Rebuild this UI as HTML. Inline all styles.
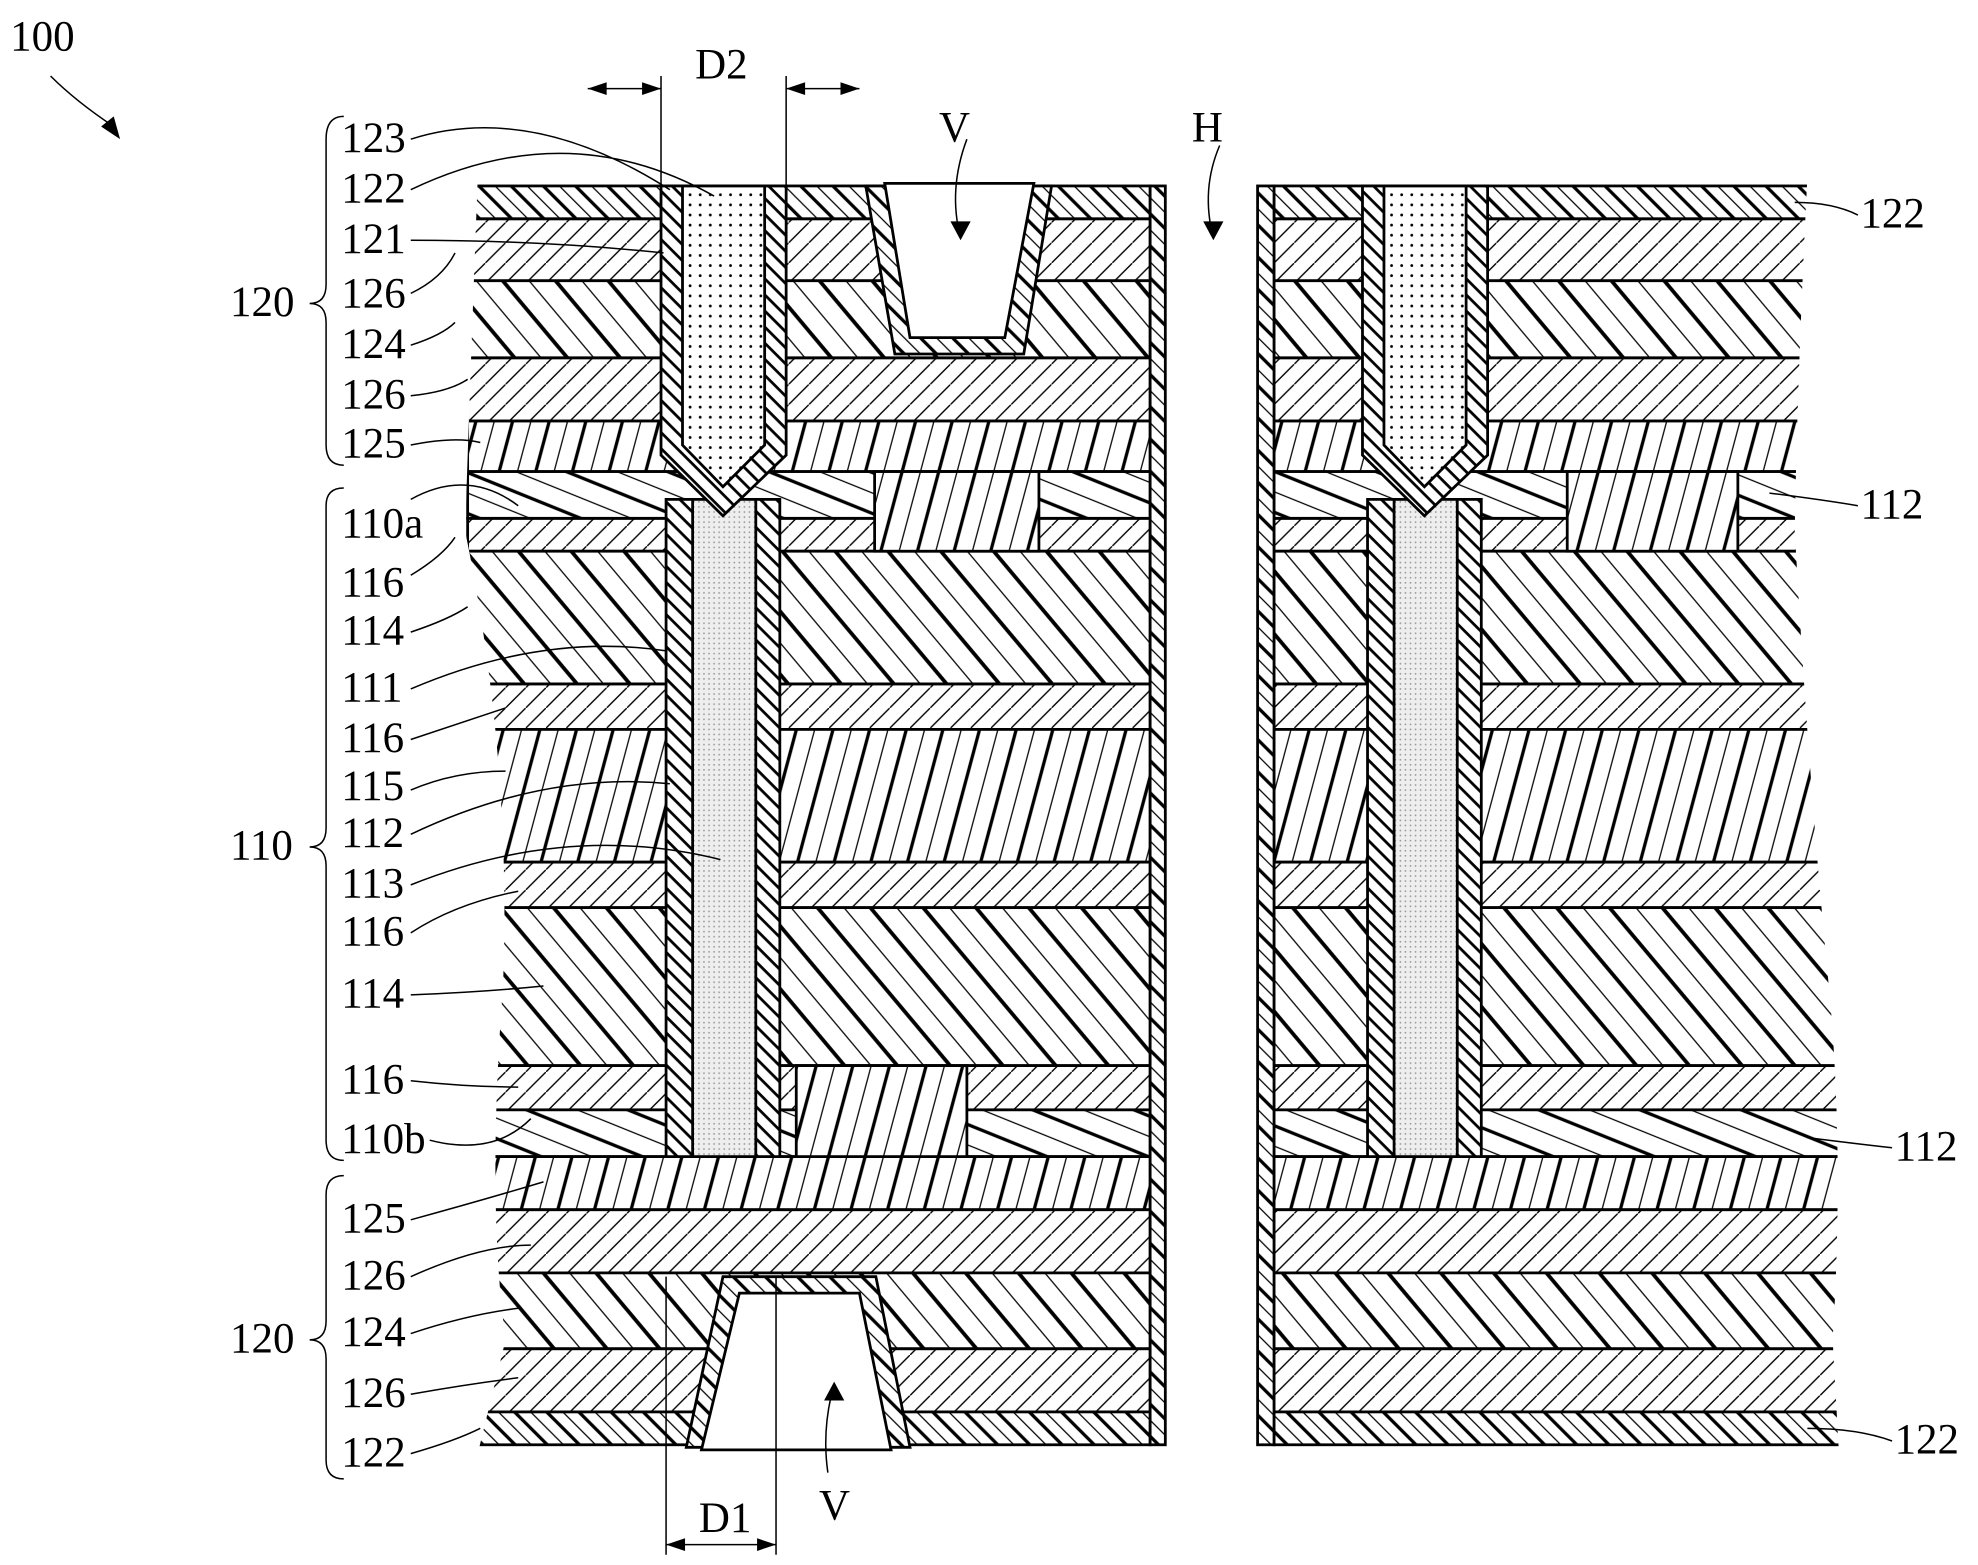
<!DOCTYPE html>
<html><head><meta charset="utf-8"><style>html,body{margin:0;padding:0;background:#fff}svg{display:block}</style></head><body>
<svg width="1978" height="1565" viewBox="0 0 1565 1238" xmlns="http://www.w3.org/2000/svg" font-family="Liberation Serif, serif" font-size="34">
<defs>
<pattern id="p126" width="16" height="16" patternUnits="userSpaceOnUse"><path d="M-2,18 L18,-2" stroke="#000" stroke-width="1.1"/></pattern>
<pattern id="p124" width="32" height="32" patternUnits="userSpaceOnUse" patternTransform="rotate(-40)"><rect width="32" height="32" fill="#fff"/><line x1="2" y1="0" x2="2" y2="32" stroke="#000" stroke-width="3"/><line x1="18" y1="0" x2="18" y2="32" stroke="#000" stroke-width="1"/></pattern>
<pattern id="p125" width="28" height="28" patternUnits="userSpaceOnUse" patternTransform="rotate(15)"><rect width="28" height="28" fill="#fff"/><line x1="2" y1="0" x2="2" y2="28" stroke="#000" stroke-width="2.6"/><line x1="16" y1="0" x2="16" y2="28" stroke="#000" stroke-width="1"/></pattern>
<pattern id="p112" width="30" height="30" patternUnits="userSpaceOnUse" patternTransform="rotate(-68)"><rect width="30" height="30" fill="#fff"/><line x1="2" y1="0" x2="2" y2="30" stroke="#000" stroke-width="2.6"/><line x1="17" y1="0" x2="17" y2="30" stroke="#000" stroke-width="1"/></pattern>
<pattern id="p122" width="18" height="18" patternUnits="userSpaceOnUse" patternTransform="rotate(-45)"><rect width="18" height="18" fill="#fff"/><line x1="2" y1="0" x2="2" y2="18" stroke="#000" stroke-width="2.6"/><line x1="11" y1="0" x2="11" y2="18" stroke="#000" stroke-width="1"/></pattern>
<pattern id="pl" width="9" height="9" patternUnits="userSpaceOnUse" patternTransform="rotate(-45)"><rect width="9" height="9" fill="#fff"/><line x1="2" y1="0" x2="2" y2="9" stroke="#000" stroke-width="2.2"/></pattern>
<pattern id="pd" width="8" height="8" patternUnits="userSpaceOnUse"><rect width="8" height="8" fill="#fff"/><circle cx="2" cy="2" r="1.1" fill="#000"/></pattern>
<pattern id="pd2" width="4" height="4" patternUnits="userSpaceOnUse"><rect width="4" height="4" fill="#eee"/><circle cx="1" cy="1" r="0.7" fill="#999"/></pattern>
</defs>
<g stroke="#000" stroke-width="2.2">
<g>
<rect x="370" y="147" width="540" height="26" fill="url(#p122)"/>
<rect x="370" y="173" width="540" height="49" fill="url(#p126)"/>
<rect x="370" y="222" width="540" height="61" fill="url(#p124)"/>
<rect x="370" y="283" width="540" height="50" fill="url(#p126)"/>
<rect x="370" y="333" width="540" height="40" fill="url(#p125)"/>
<rect x="370" y="373" width="540" height="37" fill="url(#p112)"/>
<rect x="370" y="410" width="540" height="26" fill="url(#p126)"/>
<rect x="370" y="436" width="540" height="105" fill="url(#p124)"/>
<rect x="370" y="541" width="540" height="36" fill="url(#p126)"/>
<rect x="370" y="577" width="540" height="105" fill="url(#p125)"/>
<rect x="370" y="682" width="540" height="36" fill="url(#p126)"/>
<rect x="370" y="718" width="540" height="125" fill="url(#p124)"/>
<rect x="370" y="843" width="540" height="35" fill="url(#p126)"/>
<rect x="370" y="878" width="540" height="37" fill="url(#p112)"/>
<rect x="370" y="915" width="540" height="42" fill="url(#p125)"/>
<rect x="370" y="957" width="540" height="50" fill="url(#p126)"/>
<rect x="370" y="1007" width="540" height="60" fill="url(#p124)"/>
<rect x="370" y="1067" width="540" height="50" fill="url(#p126)"/>
<rect x="370" y="1117" width="540" height="26" fill="url(#p122)"/>
</g>
<g>
<rect x="1008" y="147" width="460" height="26" fill="url(#p122)"/>
<rect x="1008" y="173" width="460" height="49" fill="url(#p126)"/>
<rect x="1008" y="222" width="460" height="61" fill="url(#p124)"/>
<rect x="1008" y="283" width="460" height="50" fill="url(#p126)"/>
<rect x="1008" y="333" width="460" height="40" fill="url(#p125)"/>
<rect x="1008" y="373" width="460" height="37" fill="url(#p112)"/>
<rect x="1008" y="410" width="460" height="26" fill="url(#p126)"/>
<rect x="1008" y="436" width="460" height="105" fill="url(#p124)"/>
<rect x="1008" y="541" width="460" height="36" fill="url(#p126)"/>
<rect x="1008" y="577" width="460" height="105" fill="url(#p125)"/>
<rect x="1008" y="682" width="460" height="36" fill="url(#p126)"/>
<rect x="1008" y="718" width="460" height="125" fill="url(#p124)"/>
<rect x="1008" y="843" width="460" height="35" fill="url(#p126)"/>
<rect x="1008" y="878" width="460" height="37" fill="url(#p112)"/>
<rect x="1008" y="915" width="460" height="42" fill="url(#p125)"/>
<rect x="1008" y="957" width="460" height="50" fill="url(#p126)"/>
<rect x="1008" y="1007" width="460" height="60" fill="url(#p124)"/>
<rect x="1008" y="1067" width="460" height="50" fill="url(#p126)"/>
<rect x="1008" y="1117" width="460" height="26" fill="url(#p122)"/>
</g>
<rect x="692" y="373" width="130" height="63" fill="url(#p125)"/>
<rect x="630" y="843" width="135" height="72" fill="url(#p125)"/>
<rect x="1240" y="373" width="135" height="63" fill="url(#p125)"/>
<rect x="910" y="147" width="12" height="996" fill="url(#p122)"/>
<rect x="995" y="147" width="13" height="996" fill="url(#p122)"/>
<polygon points="685,147 708,280 810,280 832,147" fill="url(#p122)"/>
<polygon points="700,145 720,267 795,267 818,145" fill="#fff"/>
<polygon points="543,1145 572,1010 693,1010 720,1145" fill="url(#p122)"/>
<polygon points="555,1147 585,1023 680,1023 705,1147" fill="#fff"/>
<g>
<rect x="527" y="395" width="90" height="520" fill="url(#pl)"/>
<rect x="548" y="395" width="50" height="520" fill="url(#pd2)"/>
<polygon points="523,147 622,147 622,360 572,408 523,360" fill="url(#pl)"/>
<polygon points="540,147 605,147 605,352 572,385 540,352" fill="url(#pd)"/>
</g>
<g transform="translate(555,0)">
<rect x="527" y="395" width="90" height="520" fill="url(#pl)"/>
<rect x="548" y="395" width="50" height="520" fill="url(#pd2)"/>
<polygon points="523,147 622,147 622,360 572,408 523,360" fill="url(#pl)"/>
<polygon points="540,147 605,147 605,352 572,385 540,352" fill="url(#pd)"/>
</g>
</g>
<path d="M0,140 L378,140 Q372,300 368,420 Q405,600 398,780 Q385,950 400,1060 L378,1150 L0,1150 Z" fill="#fff"/>
<path d="M1565,140 L1430,140 Q1422,300 1420,420 Q1430,600 1445,760 Q1460,900 1450,1060 L1455,1150 L1565,1150 Z" fill="#fff"/>
<g fill="none" stroke="#000" stroke-width="1.2">
<line x1="523" y1="60" x2="523" y2="147"/><line x1="622" y1="60" x2="622" y2="147"/>
<line x1="465" y1="70" x2="523" y2="70"/><line x1="622" y1="70" x2="680" y2="70"/>
<line x1="527" y1="1010" x2="527" y2="1230"/><line x1="614" y1="1010" x2="614" y2="1230"/>
<line x1="527" y1="1222" x2="614" y2="1222"/>
<path d="M325,110 Q420,80 530,150"/><path d="M325,150 Q450,90 565,155"/>
<path d="M325,190 Q430,190 525,200"/><path d="M325,232 Q350,220 360,200"/>
<path d="M325,273 Q350,265 360,255"/><path d="M325,313 Q355,310 370,300"/>
<path d="M325,352 Q360,345 380,350"/>
<path d="M325,395 Q370,370 410,400"/><path d="M325,455 Q350,440 360,425"/>
<path d="M325,500 Q355,490 370,480"/><path d="M325,545 Q430,500 528,515"/>
<path d="M325,585 Q355,575 400,560"/><path d="M325,625 Q360,610 400,610"/>
<path d="M325,660 Q430,610 530,620"/><path d="M325,700 Q450,650 570,680"/>
<path d="M325,738 Q360,715 410,705"/><path d="M325,787 Q380,785 430,780"/>
<path d="M325,855 Q370,860 410,860"/><path d="M340,902 Q390,915 420,885"/>
<path d="M325,965 Q380,950 430,935"/><path d="M325,1010 Q380,985 420,985"/>
<path d="M325,1055 Q370,1040 410,1035"/><path d="M325,1103 Q370,1095 410,1090"/>
<path d="M325,1150 Q360,1140 380,1130"/>
<path d="M1470,170 Q1450,160 1420,160"/><path d="M1470,400 Q1440,395 1400,390"/>
<path d="M1497,908 Q1470,905 1430,900"/><path d="M1497,1140 Q1470,1130 1430,1130"/>
<path d="M760,188 Q750,150 765,110"/><path d="M960,188 Q950,150 965,115"/>
<path d="M655,1165 Q650,1130 660,1095"/>
<path d="M40,60 Q60,80 90,100"/>
<path d="M272,92 Q258,92 258,110 L258,225 Q258,240 245,240 Q258,240 258,255 L258,352 Q258,368 272,368"/>
<path d="M272,386 Q258,386 258,400 L258,655 Q258,670 245,670 Q258,670 258,685 L258,902 Q258,918 272,918"/>
<path d="M272,930 Q258,930 258,945 L258,1045 Q258,1060 245,1060 Q258,1060 258,1075 L258,1155 Q258,1170 272,1170"/>
</g>
<g fill="#000">
<polygon points="465,70 480,65 480,75"/><polygon points="680,70 665,65 665,75"/>
<polygon points="523,70 508,65 508,75"/><polygon points="622,70 637,65 637,75"/>
<polygon points="527,1222 542,1217 542,1227"/><polygon points="614,1222 599,1217 599,1227"/>
<polygon points="95,110 80,100 90,92"/>
<polygon points="760,190 752,175 768,175"/><polygon points="960,190 952,175 968,175"/><polygon points="660,1093 652,1108 668,1108"/>
</g>
<g fill="#000">
<text x="8" y="40">100</text>
<text x="550" y="62">D2</text><text x="553" y="1212">D1</text>
<text x="743" y="112">V</text><text x="943" y="112">H</text><text x="648" y="1202">V</text>
<text x="182" y="250">120</text><text x="182" y="680">110</text><text x="182" y="1070">120</text>
<text x="270" y="120">123</text><text x="270" y="160">122</text><text x="270" y="200">121</text>
<text x="270" y="243">126</text><text x="270" y="283">124</text><text x="270" y="323">126</text>
<text x="270" y="362">125</text><text x="270" y="425">110a</text><text x="270" y="472">116</text>
<text x="270" y="510">114</text><text x="270" y="555">111</text><text x="270" y="595">116</text>
<text x="270" y="633">115</text><text x="270" y="670">112</text><text x="270" y="710">113</text>
<text x="270" y="748">116</text><text x="270" y="797">114</text><text x="270" y="865">116</text>
<text x="270" y="912">110b</text><text x="270" y="975">125</text><text x="270" y="1020">126</text>
<text x="270" y="1065">124</text><text x="270" y="1113">126</text><text x="270" y="1160">122</text>
<text x="1472" y="180">122</text><text x="1472" y="410">112</text>
<text x="1499" y="918">112</text><text x="1499" y="1150">122</text>
</g>
</svg>
</body></html>
